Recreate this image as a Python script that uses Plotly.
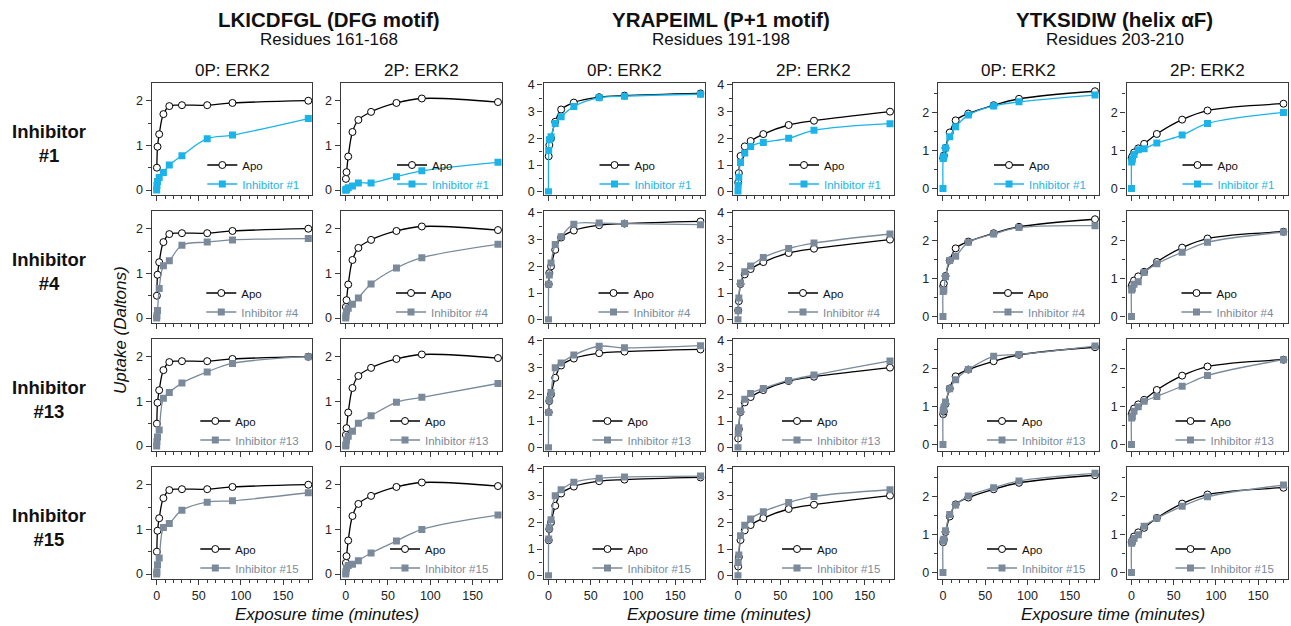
import plotly.graph_objects as go

W, H = 1291, 626

# ---------------- data ----------------
T_APO = [0.25, 1, 3, 8, 15, 30, 60, 90, 180]
T_INH = [0, 0.25, 1, 3, 8, 15, 30, 60, 90, 180]

APO_DFG_0P = [0.5, 0.97, 1.25, 1.7, 1.88, 1.9, 1.9, 1.95, 2.0]
APO_DFG_2P = [0.25, 0.4, 0.75, 1.3, 1.57, 1.75, 1.95, 2.05, 1.97]
APO_P1_0P = [1.33, 1.75, 2.0, 2.62, 3.08, 3.34, 3.54, 3.6, 3.68]
APO_P1_2P = [0.35, 0.7, 1.34, 1.7, 1.9, 2.16, 2.5, 2.66, 3.0]
APO_AF_0P = [0.8, 0.87, 1.07, 1.48, 1.8, 1.98, 2.2, 2.37, 2.57]
APO_AF_2P = [0.8, 0.85, 0.95, 1.06, 1.18, 1.44, 1.82, 2.06, 2.24]

# rows: Inhibitor #1, #4, #13, #15
INH_DFG_0P = [
    [0, 0.1, 0.19, 0.28, 0.39, 0.56, 0.77, 1.15, 1.23, 1.6],
    [0, 0.05, 0.17, 0.66, 1.17, 1.28, 1.63, 1.7, 1.75, 1.78],
    [0, 0.1, 0.2, 0.36, 1.07, 1.2, 1.41, 1.66, 1.85, 2.0],
    [0, 0.05, 0.21, 0.36, 1.04, 1.13, 1.43, 1.61, 1.64, 1.82],
]
INH_DFG_2P = [
    [0, 0, 0.02, 0.05, 0.09, 0.16, 0.16, 0.3, 0.43, 0.62],
    [0, 0.05, 0.15, 0.22, 0.31, 0.45, 0.76, 1.12, 1.35, 1.65],
    [0, 0.03, 0.13, 0.22, 0.33, 0.51, 0.68, 0.98, 1.09, 1.4],
    [0, 0.05, 0.13, 0.19, 0.22, 0.3, 0.47, 0.74, 1.0, 1.32],
]
INH_P1_0P = [
    [0, 1.55, 1.95, 2.06, 2.56, 2.81, 3.19, 3.52, 3.58, 3.65],
    [0, 1.33, 1.68, 2.13, 2.82, 3.11, 3.58, 3.62, 3.6, 3.56],
    [0, 1.32, 1.8, 2.07, 3.0, 3.17, 3.47, 3.8, 3.74, 3.82],
    [0, 1.38, 1.8, 2.1, 3.0, 3.22, 3.5, 3.65, 3.7, 3.73],
]
INH_P1_2P = [
    [0, 0.25, 0.55, 1.1, 1.45, 1.7, 1.85, 2.0, 2.3, 2.55],
    [0, 0.34, 0.82, 1.38, 1.8, 2.01, 2.33, 2.67, 2.87, 3.21],
    [0, 0.55, 0.75, 1.38, 1.82, 2.03, 2.22, 2.52, 2.72, 3.25],
    [0, 0.5, 0.78, 1.5, 1.89, 2.13, 2.4, 2.74, 2.97, 3.22],
]
INH_AF_0P = [
    [0, 0.79, 0.85, 1.07, 1.37, 1.63, 1.94, 2.18, 2.29, 2.47],
    [0, 0.66, 0.7, 1.05, 1.48, 1.59, 1.96, 2.18, 2.35, 2.4],
    [0, 0.9, 0.97, 1.12, 1.47, 1.71, 1.98, 2.33, 2.38, 2.6],
    [0, 0.84, 0.88, 1.1, 1.53, 1.78, 2.02, 2.24, 2.42, 2.62],
]
INH_AF_2P = [
    [0, 0.7, 0.77, 0.9, 1.02, 1.05, 1.2, 1.41, 1.72, 2.01],
    [0, 0.7, 0.74, 0.85, 0.92, 1.16, 1.39, 1.7, 1.96, 2.23],
    [0, 0.7, 0.74, 0.88, 1.0, 1.14, 1.27, 1.54, 1.82, 2.24],
    [0, 0.77, 0.82, 0.9, 1.0, 1.22, 1.43, 1.75, 2.0, 2.31],
]

INHIBITOR_LABELS = ["#1", "#4", "#13", "#15"]
INHIBITOR_COLORS = ["#1CB4E8", "#7B8A9B", "#7B8A9B", "#7B8A9B"]
GROUP_TITLES = ["LKICDFGL (DFG motif)", "YRAPEIML (P+1 motif)", "YTKSIDIW (helix \u03b1F)"]
GROUP_SUBTITLES = ["Residues 161-168", "Residues 191-198", "Residues 203-210"]
COL_TITLES = ["0P: ERK2", "2P: ERK2"]
X_TICKS = [0, 50, 100, 150]

APO_COLS = [APO_DFG_0P, APO_DFG_2P, APO_P1_0P, APO_P1_2P, APO_AF_0P, APO_AF_2P]
INH_COLS = [INH_DFG_0P, INH_DFG_2P, INH_P1_0P, INH_P1_2P, INH_AF_0P, INH_AF_2P]

# ---------------- layout geometry ----------------
FONT = "Arial, 'Liberation Sans', sans-serif"
COL_PX = [(151.7, 312.3), (340.7, 502.0), (543.5, 704.5), (733.0, 894.0), (938.0, 1099.0), (1126.5, 1287.5)]
ROW_TOP0, ROW_H, ROW_PITCH = 83.3, 111.2, 128.0
Y_RANGES = [[-0.1, 2.39], [-0.1, 4.06], [-0.16, 2.78]]
X_RANGE = [-5.9, 184.75]
AXCOL = "#3a3a3a"


def px_x(p):
    return p / W


def px_y(p):
    return 1 - p / H


fig = go.Figure()
layout = dict(
    width=W, height=H, margin=dict(l=0, r=0, t=0, b=0, pad=0, autoexpand=False),
    paper_bgcolor="white", plot_bgcolor="white",
    font=dict(family=FONT, color="#111", size=12),
    showlegend=True,
)

for r in range(4):
    top = ROW_TOP0 + r * ROW_PITCH
    bot = top + ROW_H
    for c in range(6):
        n = r * 6 + c + 1
        g = c // 2
        xl, xr = COL_PX[c]
        xs = "" if n == 1 else str(n)
        leg = "legend" if n == 1 else f"legend{n}"
        layout[f"xaxis{xs}"] = dict(
            domain=[px_x(xl), px_x(xr)], anchor=f"y{xs}", range=X_RANGE,
            tickvals=X_TICKS, ticks="outside", ticklen=5, tickwidth=1.2, tickcolor=AXCOL,
            minor=dict(dtick=10, tick0=0, ticks="outside", ticklen=3, tickwidth=1.2, tickcolor=AXCOL),
            showline=True, linecolor=AXCOL, linewidth=1.4, mirror=True,
            showgrid=False, zeroline=False, showticklabels=(r == 3),
            tickfont=dict(size=12.5, color="#222"), automargin=False,
        )
        layout[f"yaxis{xs}"] = dict(
            domain=[px_y(bot), px_y(top)], anchor=f"x{xs}", range=Y_RANGES[g],
            dtick=1, tick0=0, ticks="outside", ticklen=5, tickwidth=1.2, tickcolor=AXCOL,
            minor=dict(dtick=0.5, tick0=0, ticks="outside", ticklen=3, tickwidth=1.2, tickcolor=AXCOL),
            showline=True, linecolor=AXCOL, linewidth=1.4, mirror=True,
            showgrid=False, zeroline=False, showticklabels=True,
            tickfont=dict(size=12.5, color="#222"), automargin=False,
        )
        layout[leg] = dict(
            x=px_x(xr - 8), y=px_y(bot + 4), xanchor="right", yanchor="bottom",
            bgcolor="rgba(0,0,0,0)", borderwidth=0, font=dict(size=11.5, family=FONT, color="#111"),
            itemwidth=30, tracegroupgap=0, traceorder="normal",
        )
        col = INHIBITOR_COLORS[r]
        fig.add_trace(go.Scatter(
            x=T_APO, y=APO_COLS[c], mode="lines+markers", name="Apo",
            line=dict(color="black", width=1.3, shape="spline", smoothing=1.0),
            marker=dict(symbol="circle", size=7, color="white", line=dict(color="black", width=1)),
            xaxis=f"x{xs}", yaxis=f"y{xs}", legend=leg, hoverinfo="skip",
        ))
        fig.add_trace(go.Scatter(
            x=T_INH, y=INH_COLS[c][r], mode="lines+markers",
            name=f"<span style='color:{col}'>Inhibitor {INHIBITOR_LABELS[r]}</span>",
            line=dict(color=col, width=1.3, shape="spline", smoothing=1.0),
            marker=dict(symbol="square", size=7, color=col, line=dict(width=0)),
            xaxis=f"x{xs}", yaxis=f"y{xs}", legend=leg, hoverinfo="skip",
        ))

ann = []
for g in range(3):
    cx = (COL_PX[2 * g][0] + COL_PX[2 * g + 1][1]) / 2
    ann.append(dict(text=f"<b>{GROUP_TITLES[g]}</b>", x=px_x(cx + 2), y=px_y(20), xref="paper", yref="paper",
                    showarrow=False, font=dict(size=20.5, family=FONT, color="#111"), xanchor="center", yanchor="middle"))
    ann.append(dict(text=GROUP_SUBTITLES[g], x=px_x(cx + 2), y=px_y(40), xref="paper", yref="paper",
                    showarrow=False, font=dict(size=17, family=FONT, color="#111"),
                    xanchor="center", yanchor="middle"))
    ann.append(dict(text="<i>Exposure time (minutes)</i>", x=px_x(cx), y=px_y(614), xref="paper", yref="paper",
                    showarrow=False, font=dict(size=17, family=FONT, color="#111"), xanchor="center", yanchor="middle"))
    for k in range(2):
        xl, xr = COL_PX[2 * g + k]
        ann.append(dict(text=COL_TITLES[k], x=px_x((xl + xr) / 2), y=px_y(71), xref="paper", yref="paper",
                        showarrow=False, font=dict(size=17, family=FONT, color="#111"), xanchor="center", yanchor="middle"))
for r in range(4):
    top = ROW_TOP0 + r * ROW_PITCH
    ann.append(dict(text=f"<b>Inhibitor<br>{INHIBITOR_LABELS[r]}</b>", x=px_x(49), y=px_y(top + ROW_H / 2 + 5),
                    xref="paper", yref="paper", showarrow=False, align="center",
                    font=dict(size=18.5, family=FONT, color="#111"), xanchor="center", yanchor="middle"))
ann.append(dict(text="<i>Uptake (Daltons)</i>", x=px_x(120), y=px_y(330), xref="paper", yref="paper",
                showarrow=False, textangle=-90, font=dict(size=17, family=FONT, color="#111"),
                xanchor="center", yanchor="middle"))
layout["annotations"] = ann

fig.update_layout(**layout)
fig.write_html("out.html", config={"displayModeBar": False},
               post_script="document.body.style.margin='0';document.body.style.overflow='hidden';")
